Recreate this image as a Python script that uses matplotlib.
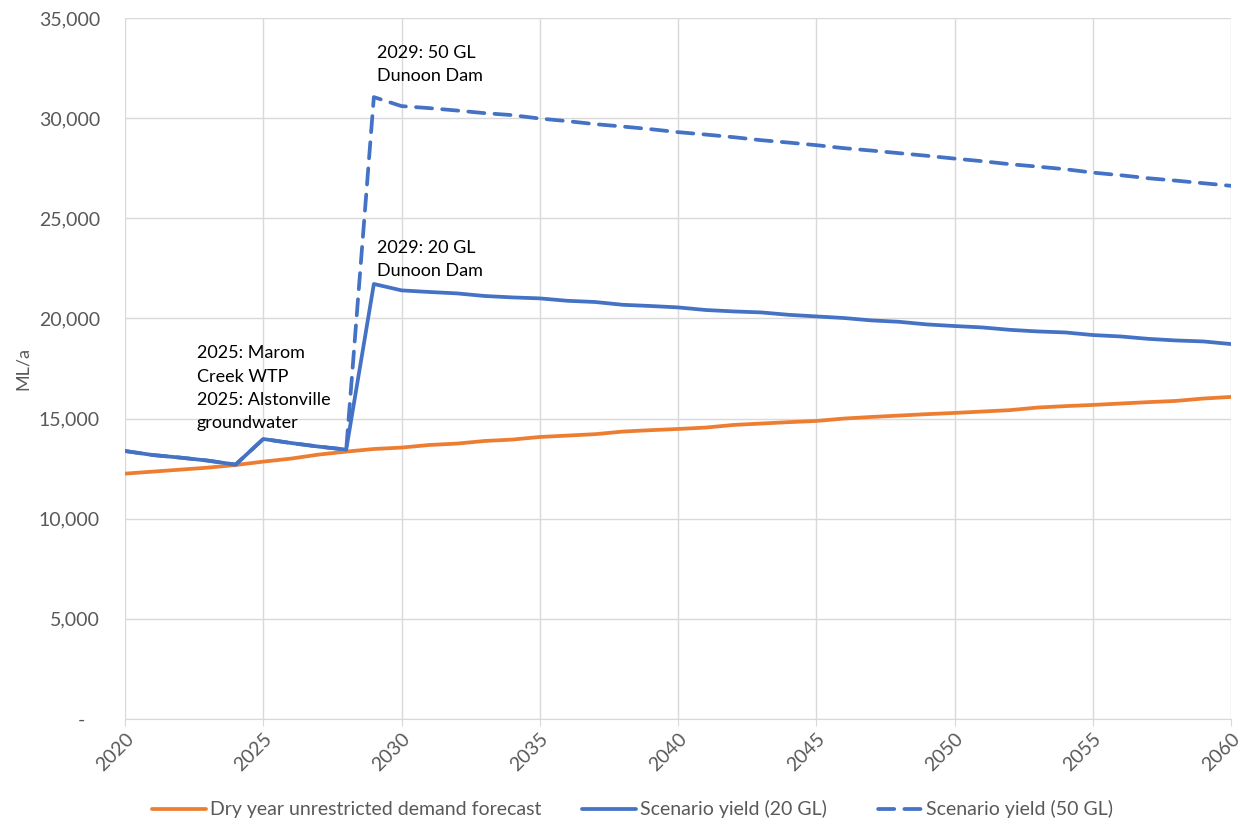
import matplotlib.pyplot as plt
import matplotlib.ticker as mticker
import numpy as np

plt.rcParams['font.family'] = ['Lato', 'DejaVu Sans']

years = list(range(2020, 2061))

demand = [12250, 12350, 12450, 12550, 12680, 12850, 13000, 13200, 13350, 13480,
          13550, 13680, 13750, 13880, 13950, 14080, 14150, 14220, 14350, 14420,
          14480, 14550, 14680, 14750, 14820, 14880, 15000, 15080, 15150, 15220,
          15280, 15350, 15420, 15550, 15620, 15680, 15750, 15820, 15880, 16000,
          16080]

yield_20gl = [13380, 13180, 13050, 12900, 12700, 13980, 13780, 13600, 13450, 21720,
              21400, 21320, 21250, 21120, 21050, 21000, 20880, 20820, 20680, 20620,
              20550, 20420, 20350, 20300, 20180, 20100, 20020, 19900, 19830, 19700,
              19620, 19550, 19430, 19350, 19300, 19170, 19100, 18980, 18900, 18850,
              18720]

yield_50gl = [13380, 13180, 13050, 12900, 12700, 13980, 13780, 13600, 13450, 31050,
              30600, 30500, 30380, 30250, 30150, 29980, 29850, 29700, 29580, 29450,
              29300, 29180, 29050, 28900, 28780, 28650, 28500, 28380, 28250, 28120,
              27980, 27850, 27700, 27580, 27450, 27280, 27150, 27000, 26880, 26750,
              26620]

notes = [(2022.6, 18650, "2025: Marom\nCreek WTP\n2025: Alstonville\ngroundwater"),
         (2029.1, 23900, "2029: 20 GL\nDunoon Dam"),
         (2029.1, 33650, "2029: 50 GL\nDunoon Dam")]

orange = '#ED7D31'
blue = '#4472C4'
grey = '#595959'
grid = '#D9D9D9'
dash = (4.3, 2.7)

fig = plt.figure(figsize=(12.45, 8.25), dpi=100)
ax = fig.add_axes([0.1004, 0.1285, 0.8884, 0.8497])

ax.plot(years, demand, color=orange, lw=2.7, label='Dry year unrestricted demand forecast',
        solid_capstyle='round', zorder=3)
ax.plot(years, yield_20gl, color=blue, lw=2.7, label='Scenario yield (20 GL)',
        solid_capstyle='round', zorder=3)
ax.plot(years, yield_50gl, color=blue, lw=2.7, ls=(0, dash), label='Scenario yield (50 GL)',
        dash_capstyle='round', zorder=3)

for x, y, t in notes:
    ax.text(x, y, t, fontsize=13, va='top', ha='left', color='black', linespacing=1.55)

ax.set_xlim(2020, 2060)
ax.set_ylim(0, 35000)
ax.set_xticks(range(2020, 2061, 5))
ax.set_yticks(range(0, 35001, 5000))
ax.yaxis.set_major_formatter(mticker.FuncFormatter(lambda v, p: '-   ' if v == 0 else f'{int(v):,}'))

ax.grid(True, color=grid, lw=1)
ax.set_axisbelow(True)
for s in ['top', 'right', 'left']:
    ax.spines[s].set_visible(False)
ax.spines['bottom'].set_color(grid)
ax.tick_params(axis='y', length=0, labelsize=14, labelcolor=grey, pad=18)
ax.tick_params(axis='x', length=5, color=grid, labelsize=14, labelcolor=grey, pad=3)
plt.setp(ax.get_xticklabels(), rotation=45, ha='right', rotation_mode='anchor')

ax.set_ylabel('ML/a', fontsize=13, color=grey, labelpad=6)

leg = fig.legend(loc='center', bbox_to_anchor=(0.508, 0.019), ncol=3,
                 frameon=False, fontsize=14, labelcolor=grey, handlelength=2.8,
                 columnspacing=2.1, handletextpad=0.2)
# start the dashed legend sample on a gap so it shows two full dashes
leg.get_lines()[2].set_linestyle((dash[0], dash))

fig.savefig('out.png', dpi=100)
